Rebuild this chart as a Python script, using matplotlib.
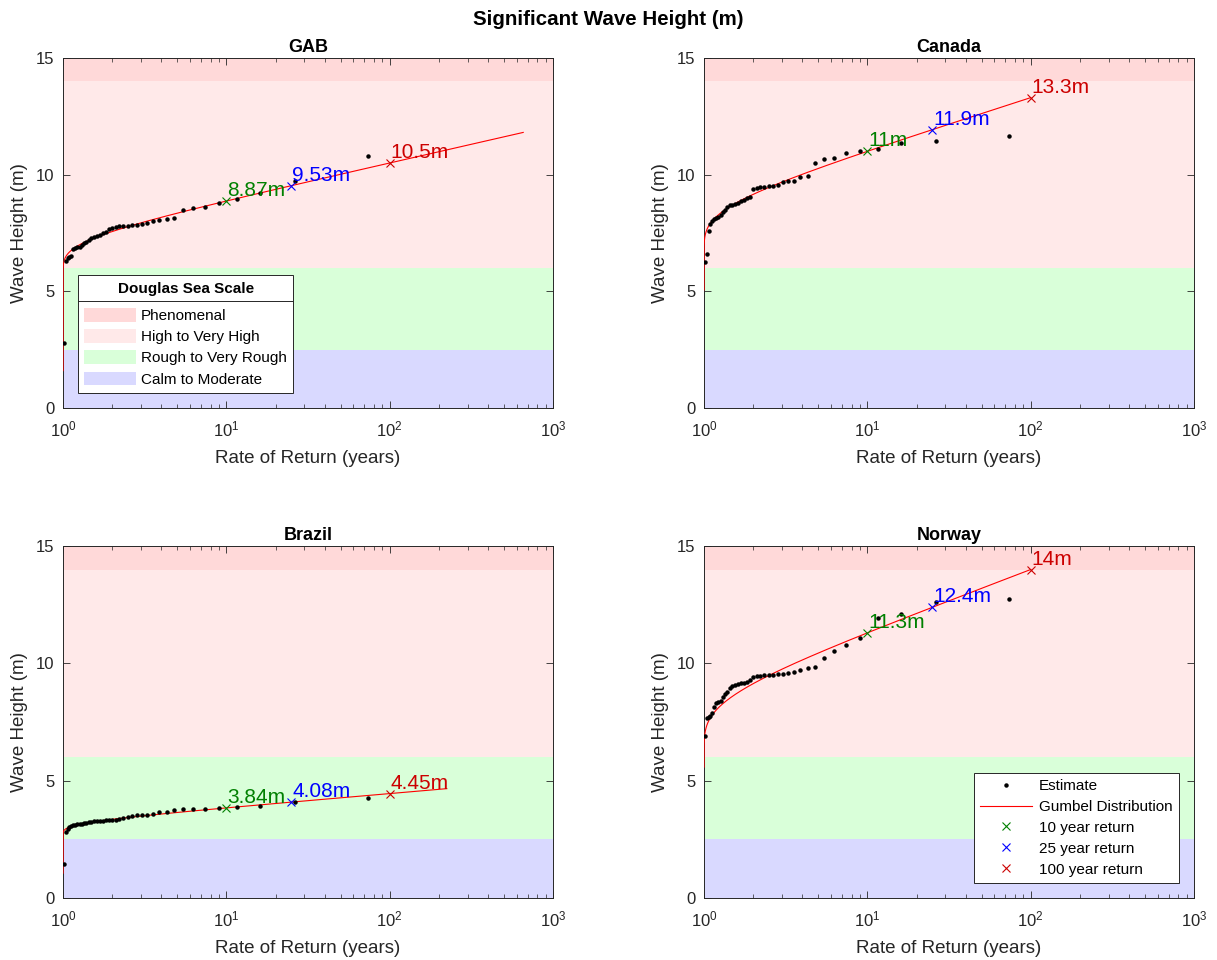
import numpy as np
import matplotlib
matplotlib.use("Agg")
import matplotlib.pyplot as plt
from matplotlib.patches import Patch
from matplotlib.lines import Line2D

plt.rcParams['font.family'] = ['Liberation Sans', 'DejaVu Sans']
plt.rcParams['mathtext.default'] = 'regular'

# ---------------------------
# empirical return periods (years), shared by all sites
# ---------------------------
return_period = [1.014, 1.039, 1.066, 1.095, 1.125, 1.156, 1.190, 1.225, 1.263, 1.303,
                 1.346, 1.391, 1.440, 1.492, 1.548, 1.609, 1.674, 1.745, 1.823, 1.907,
                 2.000, 2.102, 2.216, 2.342, 2.483, 2.643, 2.824, 3.032, 3.274, 3.557,
                 3.894, 4.301, 4.804, 5.439, 6.268, 7.396, 9.018, 11.55, 16.06, 26.36,
                 73.43]

# annual maximum significant wave height (m), sorted
hs_gab = [2.80, 6.30, 6.42, 6.45, 6.50, 6.80, 6.84, 6.88, 6.92, 6.98,
          7.05, 7.12, 7.20, 7.28, 7.32, 7.36, 7.42, 7.48, 7.55, 7.65,
          7.72, 7.76, 7.78, 7.80, 7.82, 7.84, 7.86, 7.89, 7.93, 8.01,
          8.06, 8.10, 8.14, 8.49, 8.56, 8.60, 8.80, 8.95, 9.23, 9.73,
          10.80]
hs_canada = [6.27, 6.59, 7.60, 7.90, 8.00, 8.10, 8.15, 8.20, 8.25, 8.40,
             8.50, 8.62, 8.68, 8.72, 8.75, 8.80, 8.85, 8.90, 9.00, 9.06,
             9.37, 9.44, 9.47, 9.49, 9.50, 9.51, 9.54, 9.70, 9.73, 9.74,
             9.89, 9.96, 10.49, 10.69, 10.72, 10.92, 11.02, 11.09, 11.37, 11.43,
             11.66]
hs_brazil = [1.43, 2.80, 2.95, 3.02, 3.06, 3.10, 3.12, 3.14, 3.16, 3.17,
             3.19, 3.21, 3.22, 3.24, 3.26, 3.28, 3.29, 3.30, 3.31, 3.32,
             3.33, 3.34, 3.36, 3.40, 3.45, 3.48, 3.52, 3.53, 3.55, 3.58,
             3.65, 3.65, 3.75, 3.78, 3.78, 3.79, 3.82, 3.89, 3.90, 4.07,
             4.27]
hs_norway = [6.90, 7.68, 7.72, 7.75, 7.87, 8.15, 8.30, 8.36, 8.40, 8.55,
             8.68, 8.76, 8.95, 9.03, 9.08, 9.12, 9.15, 9.18, 9.22, 9.30,
             9.40, 9.45, 9.48, 9.50, 9.50, 9.52, 9.53, 9.53, 9.57, 9.62,
             9.71, 9.81, 9.86, 10.24, 10.52, 10.77, 11.09, 11.92, 12.10, 12.63,
             12.74]

# Gumbel fit: location, scale, and the height span the fitted curve covers
gumbel_gab = (7.308, 0.694, 1.6, 11.81)
gumbel_canada = (8.797, 0.979, 5.06, 13.3)
gumbel_brazil = (3.256, 0.2596, 1.06, 4.66)
gumbel_norway = (8.714, 1.149, 5.58, 14.0)

# return levels for 10, 25, 100 years
return_years = [10, 25, 100]
levels_gab = [8.87, 9.53, 10.5]
levels_canada = [11.0, 11.9, 13.3]
levels_brazil = [3.84, 4.08, 4.45]
levels_norway = [11.3, 12.4, 14.0]
return_colors = ['#008000', '#0000ff', '#cc0000']

# Douglas sea scale bands
band_names = ['Phenomenal', 'High to Very High', 'Rough to Very Rough', 'Calm to Moderate']
band_limits = [(14, 15), (6, 14), (2.5, 6), (0, 2.5)]
band_colors = ['#ffd9d9', '#ffe9e9', '#d9ffd9', '#d9d9ff']

sites = [
    ('GAB', hs_gab, gumbel_gab, levels_gab),
    ('Canada', hs_canada, gumbel_canada, levels_canada),
    ('Brazil', hs_brazil, gumbel_brazil, levels_brazil),
    ('Norway', hs_norway, gumbel_norway, levels_norway),
]

fig = plt.figure(figsize=(12.17, 9.6), dpi=100)
positions = [
    [0.0518, 0.575, 0.4026, 0.3646],
    [0.5785, 0.575, 0.4026, 0.3646],
    [0.0518, 0.0646, 0.4026, 0.3666],
    [0.5785, 0.0646, 0.4026, 0.3666],
]
axc = '#262626'

axes = []
for pos, (name, hs, gum, levels) in zip(positions, sites):
    ax = fig.add_axes(pos)
    axes.append(ax)

    for (lo, hi), c in zip(band_limits, band_colors):
        ax.axhspan(lo, hi, color=c, lw=0, zorder=0)

    ax.plot(return_period, hs, 'o', color='k', ms=2.2, zorder=3)

    mu, beta, h0, h1 = gum
    h = np.linspace(h0, h1, 600)
    cdf = np.exp(-np.exp(-(h - mu) / beta))
    ax.plot(1.0 / (1.0 - cdf), h, color='red', lw=0.8, zorder=2.6)

    for yr, lev, c in zip(return_years, levels, return_colors):
        ax.plot(yr, lev, 'x', color=c, ms=6, mew=0.8, zorder=4)
        ax.annotate(f"{lev:.3g}m", (yr, lev), xytext=(1, 5), textcoords='offset pixels',
                    color=c, fontsize=15, ha='left', va='baseline', zorder=5)

    ax.set_xscale('log')
    ax.set_xlim(1, 1000)
    ax.set_ylim(0, 15)
    ax.set_yticks([0, 5, 10, 15])
    ax.tick_params(which='both', direction='in', top=True, right=True,
                   colors=axc, labelsize=12)
    ax.tick_params(axis='x', which='major', pad=8)
    ax.tick_params(axis='y', which='major', pad=6)
    ax.tick_params(which='major', length=5, width=0.6)
    ax.tick_params(which='minor', length=3, width=0.5)
    for s in ax.spines.values():
        s.set_color(axc)
        s.set_linewidth(0.7)
    ax.set_xlabel('Rate of Return (years)', fontsize=13.5, color=axc, labelpad=8)
    ax.set_ylabel('Wave Height (m)', fontsize=13.5, color=axc, labelpad=6)
    ax.set_title(name, fontsize=13, fontweight='bold', pad=4)

fig.suptitle('Significant Wave Height (m)', fontsize=14.8, fontweight='bold', y=0.99)

# sea state legend on the first panel
band_handles = [Patch(facecolor=c, edgecolor='none') for c in band_colors]
leg1 = axes[0].legend(band_handles, band_names, title='Douglas Sea Scale', loc='lower left',
                      fontsize=11, handlelength=3.4, handleheight=1.0, handletextpad=0.3,
                      labelspacing=0.4, fancybox=False, framealpha=1, edgecolor=axc,
                      borderaxespad=1.0,
                      title_fontproperties={'weight': 'bold', 'size': 11})
leg1.get_frame().set_linewidth(0.7)
leg1._legend_box.sep = 9  # extra room between title and entries

# marker legend on the last panel
mark_handles = [
    Line2D([], [], ls='none', marker='o', color='k', ms=2.2),
    Line2D([], [], color='red', lw=0.8),
] + [Line2D([], [], ls='none', marker='x', color=c, ms=6, mew=0.8) for c in return_colors]
mark_names = ['Estimate', 'Gumbel Distribution', '10 year return', '25 year return', '100 year return']
leg2 = axes[3].legend(mark_handles, mark_names, loc='lower right', fontsize=11,
                      handlelength=3.4, handletextpad=0.45, labelspacing=0.45,
                      fancybox=False, framealpha=1, edgecolor=axc, borderaxespad=1.0)
leg2.get_frame().set_linewidth(0.7)

# divider under the legend title
fig.canvas.draw()
bb = leg1.get_frame().get_window_extent()
tb = leg1.get_title().get_window_extent()
ydiv = tb.y0 - 5
fig.add_artist(Line2D([bb.x0, bb.x1], [ydiv, ydiv], transform=None, color=axc, lw=0.7))

fig.savefig('out.png', dpi=100)
